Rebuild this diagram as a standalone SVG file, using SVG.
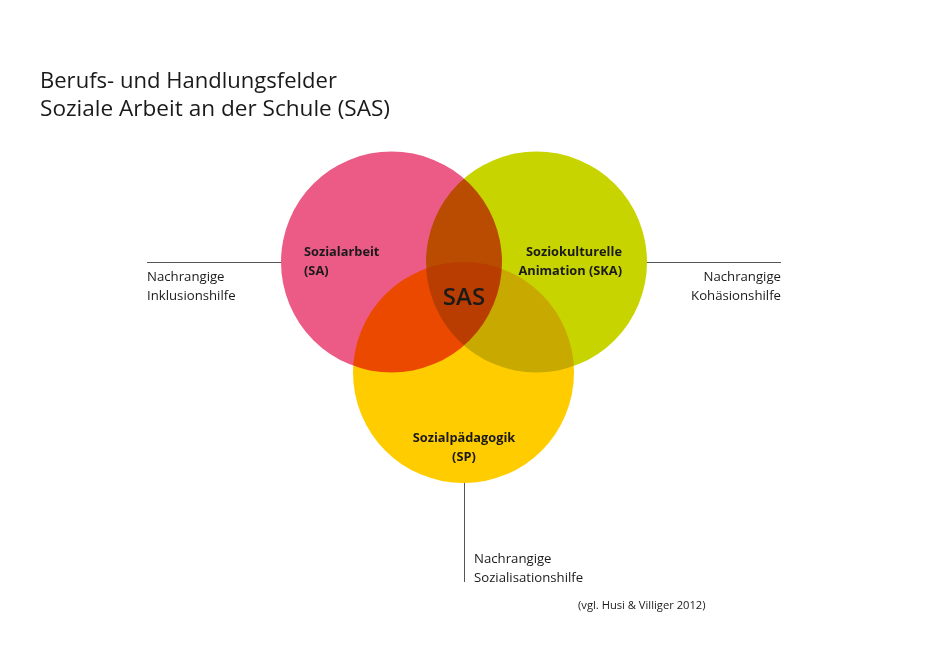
<svg xmlns="http://www.w3.org/2000/svg" width="928" height="654" viewBox="0 0 928 654">
<style>
.t{font-family:"Open Sans","Noto Sans",sans-serif;fill:#1a1a1a}
.title{font-size:22.5px}
.note{font-size:13.2px}
.lbl{font-size:12.8px;font-weight:bold}
.c{mix-blend-mode:multiply}
.ln{stroke:#555;stroke-width:1;fill:none}
</style>
<rect width="928" height="654" fill="#fff"/>
<g id="title">
<text class="t title" x="40" y="88" textLength="297" lengthAdjust="spacingAndGlyphs">Berufs- und Handlungsfelder</text>
<text class="t title" x="40" y="116" textLength="350" lengthAdjust="spacingAndGlyphs">Soziale Arbeit an der Schule (SAS)</text>
</g>
<g id="connectors">
<line class="ln" x1="147" y1="262.5" x2="292" y2="262.5"/>
<line class="ln" x1="632" y1="262.5" x2="781" y2="262.5"/>
<line class="ln" x1="464.5" y1="471" x2="464.5" y2="582"/>
</g>
<g id="circles" style="isolation:isolate">
<g id="sa"><circle class="c" cx="391.5" cy="262" r="110.5" fill="#EC5B86"/></g>
<g id="ska"><circle class="c" cx="536.5" cy="262" r="110.5" fill="#C8D400"/></g>
<g id="sp"><circle class="c" cx="463.5" cy="372.5" r="110.5" fill="#FFCC00"/></g>
</g>
<g id="labels">
<text class="t lbl" x="304" y="256">Sozialarbeit</text>
<text class="t lbl" x="304" y="275">(SA)</text>
<text class="t lbl" x="622" y="256" text-anchor="end">Soziokulturelle</text>
<text class="t lbl" x="622" y="275" text-anchor="end">Animation (SKA)</text>
<text class="t lbl" x="464" y="442" text-anchor="middle">Sozialpädagogik</text>
<text class="t lbl" x="464" y="461" text-anchor="middle">(SP)</text>
<text class="t" x="464" y="305" text-anchor="middle" font-size="24" font-weight="600">SAS</text>
</g>
<g id="notes">
<text class="t note" x="147" y="281">Nachrangige</text>
<text class="t note" x="147" y="300">Inklusionshilfe</text>
<text class="t note" x="781" y="281" text-anchor="end">Nachrangige</text>
<text class="t note" x="781" y="300" text-anchor="end">Kohäsionshilfe</text>
<text class="t note" x="474" y="563">Nachrangige</text>
<text class="t note" x="474" y="582">Sozialisationshilfe</text>
<text class="t" x="578" y="609" font-size="11.2">(vgl. Husi &amp; Villiger 2012)</text>
</g>
</svg>
